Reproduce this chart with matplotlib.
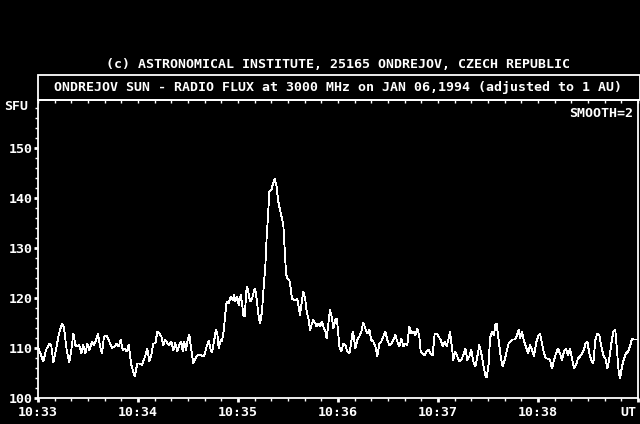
import matplotlib
matplotlib.use('Agg')
import matplotlib.pyplot as plt
from matplotlib.ticker import MultipleLocator, FixedLocator, NullFormatter
from matplotlib.patches import Rectangle

# ---- data: seconds after 10:33:00 UT, flux in SFU ----
seconds = [0.0, 3.2, 4.8, 6.8, 8.0, 9.2, 10.8, 12.4, 14.4, 15.6, 17.2, 18.8, 20.0, 21.2,
           22.4, 23.6, 24.8, 26.0, 27.2, 28.4, 29.6, 30.8, 32.4, 33.6, 34.8, 36.0, 37.2,
           38.4, 39.6, 41.2, 42.8, 44.4, 46.0, 47.2, 48.4, 49.6, 50.8, 52.0, 53.2, 54.4,
           56.0, 58.0, 59.6, 61.2, 62.4, 64.2, 65.6, 66.8, 68.0, 69.2, 70.4, 71.6, 72.8,
           74.0, 75.2, 76.4, 77.6, 78.8, 80.0, 81.2, 82.4, 83.6, 84.8, 86.0, 86.8, 87.6,
           88.8, 90.0, 90.8, 92.0, 93.2, 94.4, 96.0, 97.6, 99.6, 101.2, 102.4, 103.6,
           104.4, 105.6, 106.8, 107.6, 108.4, 109.6, 110.4, 111.6, 112.4, 113.2, 114.4,
           115.6, 116.8, 117.6, 118.4, 119.6, 120.4, 121.6, 122.4, 123.2, 124.0, 125.2,
           126.0, 126.8, 127.6, 128.8, 130.0, 130.8, 131.6, 132.4, 133.2, 134.4, 135.2,
           136.4, 137.2, 138.0, 138.8, 140.0, 140.8, 142.0, 143.2, 144.0, 145.2, 146.4,
           147.2, 148.0, 148.8, 149.6, 150.8, 151.6, 152.4, 153.6, 154.8, 155.6, 156.4,
           157.2, 158.4, 159.2, 160.4, 161.2, 162.4, 163.2, 164.4, 165.2, 166.4, 167.2,
           168.4, 169.2, 170.4, 171.2, 172.4, 173.2, 174.0, 175.2, 176.4, 177.2, 178.4,
           179.2, 180.0, 180.8, 182.0, 183.2, 184.4, 185.6, 186.8, 187.6, 188.8, 189.6,
           190.4, 191.6, 192.8, 194.0, 195.2, 196.4, 197.6, 198.8, 200.0, 201.2, 202.4,
           203.6, 204.8, 206.0, 207.2, 208.4, 209.6, 210.8, 212.0, 213.2, 214.4, 215.6,
           216.8, 218.0, 219.2, 220.4, 221.6, 222.8, 224.0, 225.2, 226.4, 227.6, 228.8,
           229.6, 230.8, 232.0, 233.2, 234.4, 235.6, 236.8, 238.0, 239.2, 240.4, 241.6,
           242.8, 244.0, 245.2, 246.4, 247.2, 248.4, 249.2, 250.4, 251.6, 252.8, 254.0,
           255.2, 256.4, 257.6, 258.8, 260.0, 261.2, 262.4, 263.6, 264.8, 266.0, 267.2,
           268.4, 269.2, 270.4, 271.2, 272.4, 273.6, 274.4, 275.2, 276.4, 277.6, 278.8,
           280.0, 281.2, 282.4, 283.6, 284.8, 286.0, 287.2, 288.4, 289.2, 290.4, 291.6,
           292.8, 294.0, 295.2, 296.4, 297.6, 298.8, 300.0, 301.2, 302.4, 303.6, 304.8,
           306.0, 307.2, 308.4, 309.6, 310.8, 312.0, 313.2, 314.4, 315.6, 316.8, 318.0,
           319.2, 320.4, 321.6, 322.8, 324.0, 325.2, 326.4, 327.6, 328.4, 329.6, 330.8,
           332.0, 333.2, 334.4, 335.6, 336.8, 338.0, 339.2, 340.4, 341.6, 342.8, 344.0,
           345.2, 346.4, 347.6, 348.4, 349.2, 350.4, 351.6, 352.8, 354.0, 355.2, 356.4,
           357.6, 358.8, 360.0]
flux = [110.2, 107.3, 109.6, 110.9, 110.4, 107.1, 109.6, 112.6, 114.9, 114.0, 109.6, 107.1,
        109.6, 112.9, 110.6, 110.3, 110.6, 108.9, 110.6, 108.9, 110.9, 109.6, 111.3, 110.6,
        111.6, 112.8, 110.3, 109.0, 112.3, 112.4, 111.3, 110.0, 110.3, 110.9, 110.3, 111.6,
        109.6, 109.9, 109.3, 110.6, 106.6, 104.3, 106.9, 106.9, 106.6, 108.3, 109.9, 107.3,
        108.6, 110.9, 110.9, 113.3, 113.0, 112.3, 110.6, 111.6, 111.0, 110.6, 111.3, 109.6,
        111.0, 109.3, 110.6, 111.3, 109.3, 111.3, 109.6, 111.9, 112.6, 109.6, 106.9, 107.9,
        108.6, 108.6, 108.3, 110.3, 111.5, 109.6, 109.1, 111.3, 113.7, 112.9, 109.9, 111.6,
        111.3, 113.9, 116.9, 119.3, 118.9, 120.3, 119.6, 120.6, 119.3, 120.3, 118.6, 120.6,
        119.0, 116.6, 116.3, 122.3, 121.6, 119.9, 119.3, 120.3, 121.9, 120.9, 118.6, 116.3,
        114.9, 117.3, 121.3, 126.3, 132.3, 136.3, 141.3, 141.6, 142.6, 143.9, 142.3, 139.6,
        137.6, 135.9, 134.6, 129.9, 124.9, 123.9, 123.6, 121.9, 119.9, 119.6, 119.6, 119.9,
        118.3, 116.6, 119.6, 121.3, 119.6, 117.3, 115.6, 113.6, 114.9, 115.6, 114.9, 114.3,
        114.9, 114.3, 115.3, 114.3, 113.3, 111.9, 114.3, 117.6, 116.0, 113.9, 115.6, 115.9,
        113.6, 110.3, 109.3, 110.9, 110.6, 109.3, 108.9, 110.3, 113.3, 112.0, 109.9, 111.6,
        112.3, 113.3, 115.1, 113.9, 112.9, 113.7, 111.6, 111.3, 110.3, 108.4, 110.9, 111.3,
        112.3, 113.3, 111.6, 110.6, 110.9, 111.6, 112.6, 111.3, 110.3, 111.9, 110.3, 110.9,
        110.6, 114.3, 113.0, 113.3, 112.6, 113.9, 112.3, 109.3, 108.9, 108.6, 109.3, 109.6,
        108.9, 108.6, 112.9, 112.9, 112.3, 111.6, 110.3, 111.3, 110.3, 111.9, 113.3, 110.0,
        107.6, 109.3, 108.3, 107.3, 107.6, 108.6, 109.9, 107.6, 108.3, 109.6, 107.3, 106.3,
        108.3, 110.6, 108.9, 106.6, 104.6, 104.1, 106.9, 111.9, 113.3, 112.6, 114.6, 114.8,
        111.6, 108.3, 106.3, 107.6, 109.3, 110.9, 111.3, 111.7, 111.7, 112.3, 113.7, 111.9,
        113.3, 111.3, 110.3, 108.9, 110.6, 109.6, 108.3, 110.9, 112.3, 112.9, 110.9, 108.9,
        107.9, 107.9, 107.6, 105.9, 107.6, 108.9, 109.9, 108.9, 107.6, 109.3, 109.9, 108.6,
        109.9, 107.9, 105.9, 106.6, 107.9, 108.3, 108.9, 109.6, 110.9, 111.3, 108.9, 107.6,
        106.9, 111.6, 112.9, 112.6, 110.3, 108.6, 107.9, 105.9, 107.9, 110.9, 113.3, 113.6,
        108.6, 105.3, 103.9, 106.3, 107.9, 108.9, 109.3, 110.3, 111.9, 111.7, 111.7, 111.7]

x_tick_seconds = [0, 60, 120, 180, 240, 300]
x_tick_labels = ['10:33', '10:34', '10:35', '10:36', '10:37', '10:38']
y_ticks = [100, 110, 120, 130, 140, 150]
y_tick_labels = ['100', '110', '120', '130', '140', '150']

title1 = '(c) ASTRONOMICAL INSTITUTE, 25165 ONDREJOV, CZECH REPUBLIC'
title2 = 'ONDREJOV SUN - RADIO FLUX at 3000 MHz on JAN 06,1994 (adjusted to 1 AU)'

W, H = 640, 424
FONT = dict(family='DejaVu Sans Mono', weight='bold', size=9.5)

fig = plt.figure(figsize=(W / 100, H / 100), dpi=100, facecolor='black')
ax = fig.add_axes([38 / W, (H - 398) / H, 600 / W, 298 / H], facecolor='black')
ax.plot(seconds, flux, color='white', lw=0.6, antialiased=False)
ax.set_xlim(0, 360)
ax.set_ylim(100, 159.6)

for s in ax.spines.values():
    s.set_color('white')
    s.set_linewidth(1.3)

ax.xaxis.set_major_locator(FixedLocator(x_tick_seconds + [360]))
ax.set_xticklabels(x_tick_labels + [''], color='white', **FONT)
ax.xaxis.set_minor_locator(MultipleLocator(10))
ax.tick_params(axis='x', which='major', direction='out', length=3, width=2,
               colors='white', pad=3)
ax.tick_params(axis='x', which='minor', direction='out', length=2, width=1,
               colors='white')

ax.set_yticks(y_ticks)
ax.set_yticklabels(y_tick_labels, color='white', **FONT)
ax.yaxis.set_minor_locator(MultipleLocator(2))
ax.tick_params(axis='y', which='major', direction='out', length=3, width=2,
               colors='white', pad=1)
ax.tick_params(axis='y', which='minor', direction='out', length=2, width=1,
               colors='white')

top = ax.secondary_xaxis('top')
top.xaxis.set_major_locator(MultipleLocator(10))
top.xaxis.set_major_formatter(NullFormatter())
top.tick_params(direction='in', length=2, width=1, colors='white')
top.spines['top'].set_visible(False)

fig.text(636 / W, 1 - 413 / H, 'UT', color='white', ha='right', va='center', **FONT)
fig.text(4 / W, 1 - 107 / H, 'SFU', color='white', ha='left', va='center', **FONT)
fig.text(633 / W, 1 - 113 / H, 'SMOOTH=2', color='white', ha='right', va='center', **FONT)
fig.text(338 / W, 1 - 64 / H, title1, color='white', ha='center', va='center', **FONT)
fig.text(338 / W, 1 - 87 / H, title2, color='white', ha='center', va='center', **FONT)
fig.add_artist(Rectangle((38 / W, 1 - 100 / H), 602 / W, 25 / H, transform=fig.transFigure,
                         fill=False, ec='white', lw=1.3))

fig.savefig('out.png', dpi=100, facecolor='black')
